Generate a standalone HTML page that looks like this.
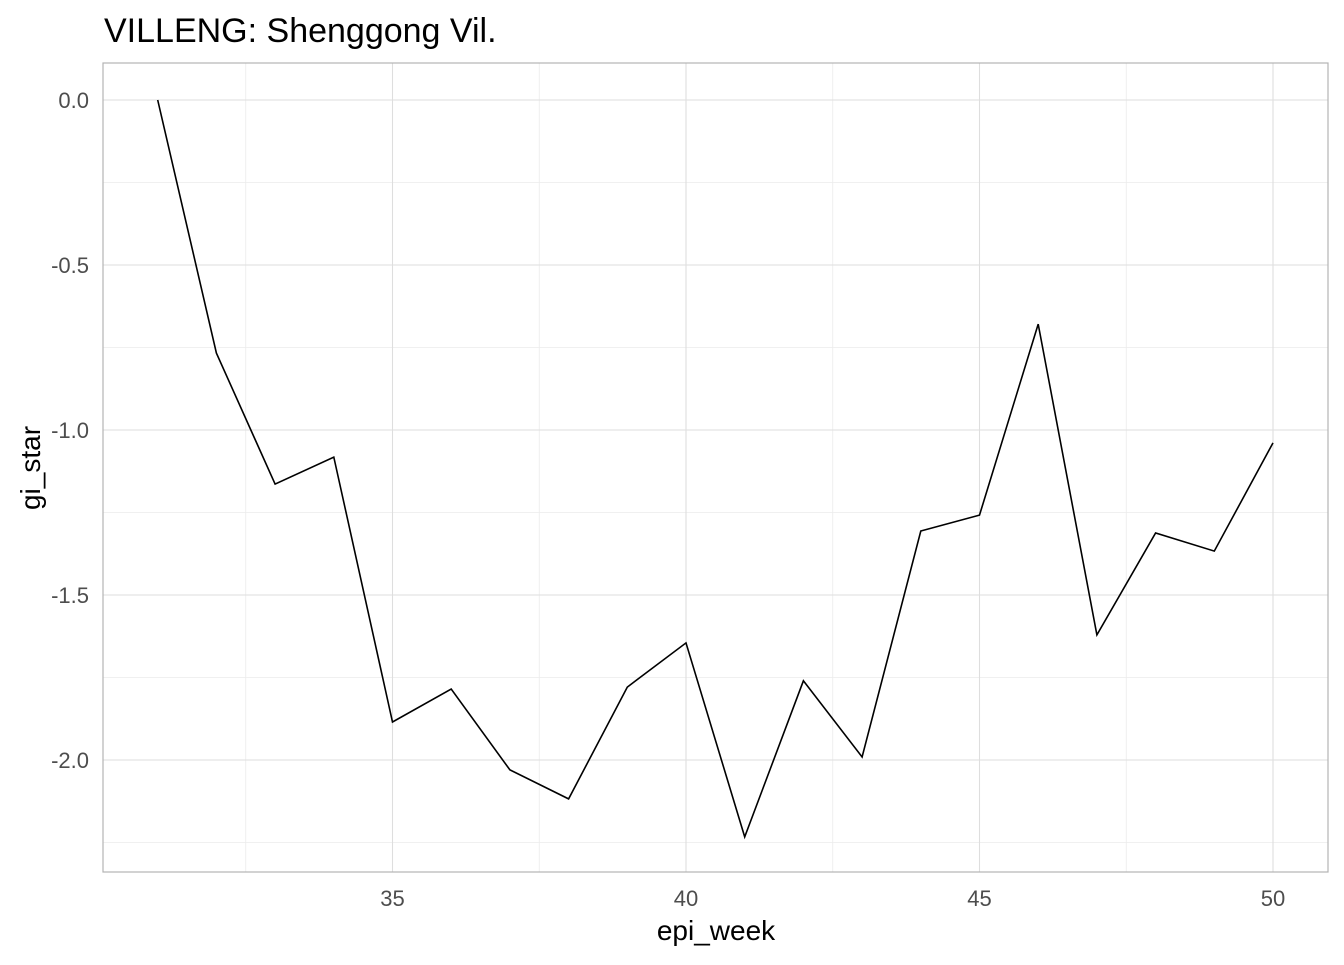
<!DOCTYPE html>
<html><head><meta charset="utf-8"><style>
html,body{margin:0;padding:0;background:#fff;}
svg text{font-family:"Liberation Sans",Arial,sans-serif;}
</style></head><body>
<svg id="chart" width="1344" height="960" xmlns="http://www.w3.org/2000/svg">
<text x="104" y="42" font-size="34" fill="#000">VILLENG: Shenggong Vil.</text>
<g id="grid"></g>
<rect x="103" y="63" width="1225" height="809" fill="none" stroke="#b3b3b3" stroke-width="1.2"/>
<g id="ticks"></g>
<path id="line" fill="none" stroke="#000" stroke-width="1.6"/>
<text x="716" y="940" font-size="28" text-anchor="middle" fill="#000">epi_week</text>
<text transform="translate(40,468) rotate(-90)" font-size="28" text-anchor="middle" fill="#000">gi_star</text>
</svg>
<script>
const weeks=[31,32,33,34,35,36,37,38,39,40,41,42,43,44,45,46,47,48,49,50];
const giStar=[0,-0.767,-1.164,-1.082,-1.885,-1.785,-2.03,-2.118,-1.779,-1.645,-2.233,-1.76,-1.991,-1.306,-1.258,-0.679,-1.621,-1.312,-1.367,-1.039];
const xTicks=[35,40,45,50];
const xTickLabels=["35","40","45","50"];
const yTicks=[0,-0.5,-1,-1.5,-2];
const yTickLabels=["0.0","-0.5","-1.0","-1.5","-2.0"];
const xMinor=[32.5,37.5,42.5,47.5];
const yMinor=[-0.25,-0.75,-1.25,-1.75,-2.25];
function xs(v){return 392.5+(v-35)*58.7;}
function ys(v){return 100-v*330;}
const NS="http://www.w3.org/2000/svg";
const grid=document.getElementById('grid'),ticks=document.getElementById('ticks');
function ln(x1,y1,x2,y2,c,w,parent,name){const l=document.createElementNS(NS,'line');l.setAttribute('x1',x1);l.setAttribute('y1',y1);l.setAttribute('x2',x2);l.setAttribute('y2',y2);l.setAttribute('stroke',c);l.setAttribute('stroke-width',w);


parent.appendChild(l);}
xMinor.forEach(v=>ln(xs(v),63,xs(v),872,'#ebebeb',0.8,grid,'x-minor-gridline'));
yMinor.forEach(v=>ln(103,ys(v),1328,ys(v),'#ebebeb',0.8,grid,'y-minor-gridline'));
xTicks.forEach(v=>ln(xs(v),63,xs(v),872,'#dedede',1.1,grid,'x-major-gridline'));
yTicks.forEach(v=>ln(103,ys(v),1328,ys(v),'#dedede',1.1,grid,'y-major-gridline'));
function tx(x,y,s,anchor,name){const t=document.createElementNS(NS,'text');t.setAttribute('x',x);t.setAttribute('y',y);t.setAttribute('font-size','22');t.setAttribute('fill','#4d4d4d');t.setAttribute('text-anchor',anchor);t.textContent=s;


ticks.appendChild(t);}
xTicks.forEach((v,i)=>tx(xs(v),906,xTickLabels[i],'middle','x-tick-label'));
yTicks.forEach((v,i)=>tx(89,ys(v)+8,yTickLabels[i],'end','y-tick-label'));
document.getElementById('line').setAttribute('d',weeks.map((w,i)=>(i?'L':'M')+xs(w).toFixed(1)+','+ys(giStar[i]).toFixed(1)).join(' '));
</script>
</body></html>
